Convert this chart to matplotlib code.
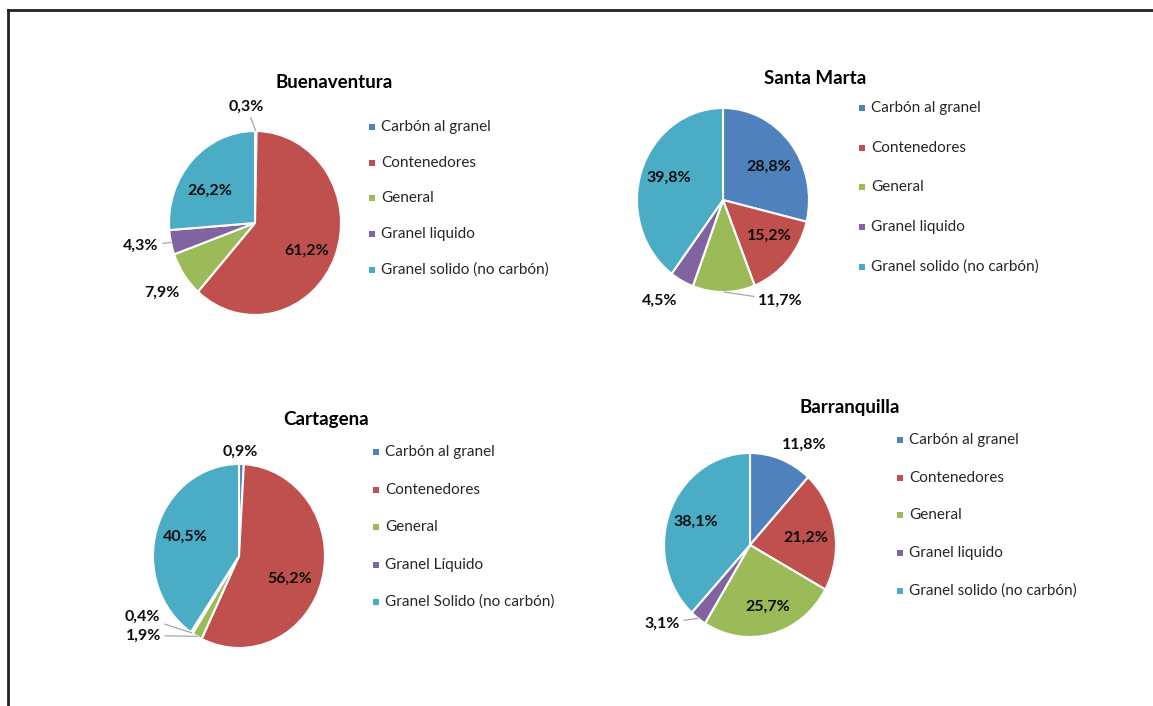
import matplotlib
matplotlib.use("Agg")
import matplotlib.pyplot as plt
from matplotlib.lines import Line2D
from matplotlib.patches import Rectangle
import numpy as np

# ---------------- data ----------------
categories = ["Carbón al granel", "Contenedores", "General",
              "Granel liquido", "Granel solido (no carbón)"]
categories_cartagena = ["Carbón al granel", "Contenedores", "General",
                        "Granel Líquido", "Granel Solido (no carbón)"]

titles = ["Buenaventura", "Santa Marta", "Cartagena", "Barranquilla"]

buenaventura = [0.3, 61.2, 7.9, 4.3, 26.2]
santa_marta = [28.8, 15.2, 11.7, 4.5, 39.8]
cartagena = [0.9, 56.2, 1.9, 0.4, 40.5]
barranquilla = [11.8, 21.2, 25.7, 3.1, 38.1]

colors = ["#4F81BD", "#C0504D", "#9BBB59", "#8064A2", "#4BACC6"]

# ---------------- layout (pixels, top-left origin) ----------------
W, H, DPI = 1153, 706, 100
RX, RY, K = 86, 92, 1.6

panels = [
    dict(title=titles[0], values=buenaventura, cats=categories,
         center=(255, 223), title_pos=(334, 82),
         marker_x=372, text_x=381, leg_y0=127, leg_dy=35.7,
         label_r=[1.27, 0.67, 1.32, 1.35, 0.63],
         label_shift=[5, -5, 0.7, -1.4, 9.5],
         leader=[True, False, False, True, False]),
    dict(title=titles[1], values=santa_marta, cats=categories,
         center=(723, 200), title_pos=(815, 78),
         marker_x=862, text_x=871, leg_y0=108, leg_dy=39.7,
         label_r=[0.64, 0.66, 1.28, 1.32, 0.67],
         label_shift=[-4, 5, 31, -5.5, -2.6],
         leader=[False, False, True, False, False]),
    dict(title=titles[2], values=cartagena, cats=categories_cartagena,
         center=(239, 556), title_pos=(326, 420),
         marker_x=376, text_x=385, leg_y0=452, leg_dy=37.5,
         label_r=[1.13, 0.64, 1.41, 1.30, 0.66],
         label_shift=[1, -8.5, -23, -26, -1],
         leader=[False, False, True, True, False]),
    dict(title=titles[3], values=barranquilla, cats=categories,
         center=(750, 545), title_pos=(850, 408),
         marker_x=900, text_x=909, leg_y0=440, leg_dy=37.7,
         label_r=[1.26, 0.655, 0.70, 1.33, 0.68],
         label_shift=[-8.7, -2, 2.6, -13, 0],
         leader=[False, False, False, True, False]),
]

plt.rcParams["font.family"] = ["Lato", "DejaVu Sans"]

fig = plt.figure(figsize=(W / DPI, H / DPI), dpi=DPI)
fig.patch.set_facecolor("white")


def fx(x):
    return x / W


def fy(y):
    return 1 - y / H


def fmt(v):
    return f"{v:.1f}".replace(".", ",") + "%"


for p in panels:
    cx, cy = p["center"]
    ax = fig.add_axes([fx(cx - K * RX), fy(cy + K * RY), 2 * K * RX / W, 2 * K * RY / H])
    wedges, _ = ax.pie(p["values"], colors=colors, startangle=90, counterclock=False,
                       radius=1.0, wedgeprops=dict(edgecolor="white", linewidth=1.5))
    ax.set_xlim(-K, K)
    ax.set_ylim(-K, K)
    ax.set_aspect("auto")
    ax.axis("off")

    for w, v, r, sh, ld in zip(wedges, p["values"], p["label_r"], p["label_shift"], p["leader"]):
        mid = np.deg2rad((w.theta1 + w.theta2) / 2)
        ang = mid + np.deg2rad(sh)
        lx, ly = r * np.cos(ang), r * np.sin(ang)
        if ld:
            ax.annotate(fmt(v), xy=(np.cos(mid), np.sin(mid)), xytext=(lx, ly),
                        ha="center", va="center", fontsize=11.5, fontweight="bold",
                        color="#0D0D0D", annotation_clip=False,
                        arrowprops=dict(arrowstyle="-", color="#A6A6A6", lw=0.9,
                                        shrinkA=1, shrinkB=0))
        else:
            ax.text(lx, ly, fmt(v), ha="center", va="center", fontsize=11.5,
                    fontweight="bold", color="#0D0D0D")

    tx, ty = p["title_pos"]
    fig.text(fx(tx), fy(ty), p["title"], ha="center", va="center",
             fontsize=13.5, fontweight="bold", color="#000000")

    for i, (cat, col) in enumerate(zip(p["cats"], colors)):
        yy = p["leg_y0"] + i * p["leg_dy"]
        s = 6
        fig.patches.append(Rectangle((fx(p["marker_x"] - s / 2), fy(yy + s / 2)),
                                     s / W, s / H, transform=fig.transFigure,
                                     facecolor=col, edgecolor="none"))
        fig.text(fx(p["text_x"]), fy(yy), cat, ha="left", va="center",
                 fontsize=11, color="#262626")

# frame lines (top and left)
fig.add_artist(Line2D([fx(8), 1.0], [fy(10), fy(10)], transform=fig.transFigure,
                      color="#222222", lw=2))
fig.add_artist(Line2D([fx(8), fx(8)], [fy(10), 0.0], transform=fig.transFigure,
                      color="#222222", lw=2))

fig.savefig("out.png", dpi=DPI, facecolor="white")
